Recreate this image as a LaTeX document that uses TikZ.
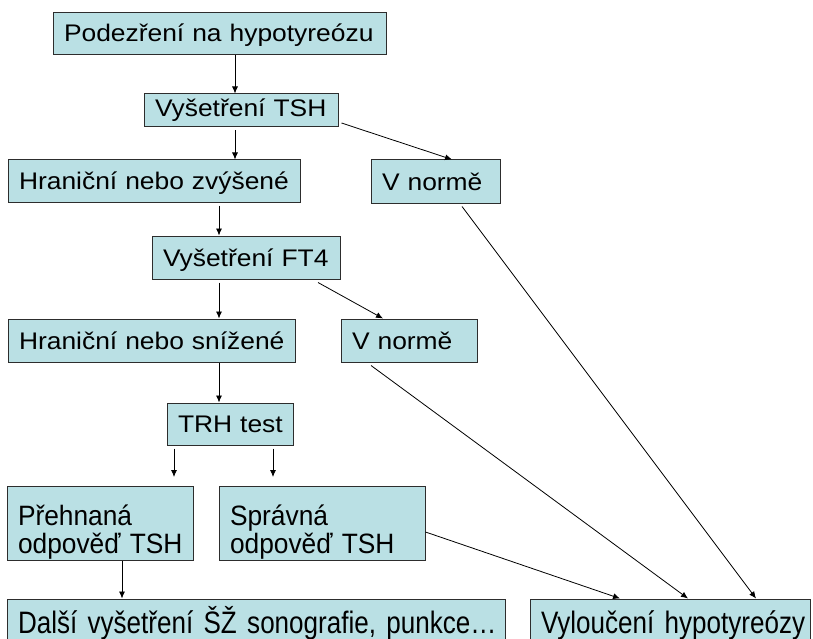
\documentclass[tikz,border=0pt]{standalone}
\usepackage{fontspec}
\setmainfont{Liberation Sans}
\newfontfamily\widesans[FakeStretch=1.1]{Liberation Sans}
\newfontfamily\tallsans[FakeStretch=0.84]{Liberation Sans}
\newfontfamily\midsans[FakeStretch=0.94]{Liberation Sans}
\usetikzlibrary{arrows.meta}
\definecolor{boxfill}{RGB}{186,224,228}
\definecolor{boxline}{RGB}{45,45,45}

\begin{document}
\begin{tikzpicture}[x=1pt,y=-1pt,>={Latex[length=7pt,width=6pt]},line width=0.8pt,
   box/.style={draw=boxline,fill=boxfill,line width=1pt,inner xsep=11pt,inner ysep=0pt,
      align=left,execute at begin node={\hyphenpenalty=10000\exhyphenpenalty=10000}},
   toptext/.style={box,font=\widesans\fontsize{24}{26}\selectfont,text height=29.5pt,text depth=12.5pt},
   lowtext/.style={box,font=\midsans\fontsize{28}{28}\selectfont,text height=39pt,text depth=35pt},
   lowline/.style={box,font=\tallsans\fontsize{31}{26}\selectfont,text height=34pt,text depth=8pt}]
         \useasboundingbox (0,0) rectangle (813,639);

         \node[toptext,text width=311pt] at (219.5,33.5) (A) {Podezření~na~hypotyreózu};
         \node[toptext,text width=172pt,text height=23pt,text depth=10pt] at (241,110.5) (B) {Vyšetření~TSH};
         \node[toptext,text width=270pt] at (154,181) (C) {Hraniční~nebo~zvýšené};
         \node[toptext,text width=107pt,minimum height=43pt] at (435.5,181.5) (D) {V~normě};
         \node[toptext,text width=166pt,minimum height=43pt] at (246,257.5) (E) {Vyšetření~FT4};
         \node[toptext,text width=265pt,minimum height=43pt] at (151.5,340.5) (F) {Hraniční~nebo~snížené};
         \node[toptext,text width=114pt,minimum height=43pt] at (409,340.5) (G) {V~normě};
         \node[toptext,text width=104pt] at (230,424) (H) {TRH~test};
         \node[lowtext,text width=164pt] at (100,523) (I) {Přehnaná\\odpověď~TSH};
         \node[lowtext,text width=184pt] at (322,523) (J) {Správná\\odpověď~TSH};
         \node[lowline,text width=476pt] at (256,620) (K) {Další~vyšetření~ŠŽ~sonografie,~punkce…};
         \node[lowline,text width=258pt] at (670,620) (L) {Vyloučení~hypotyreózy};
         \coordinate (P1) at (174,477);
         \coordinate (P2) at (273,477);

         \draw[->] ([xshift=15.5pt]A.south) -- ([xshift=-6pt]B.north);
         \draw[->] ([xshift=-6pt,yshift=-3pt]B.south) -- ([xshift=81pt]C.north);
         \draw[->] ([xshift=3pt,yshift=-12.5pt]B.east) -- ([xshift=16.5pt]D.north);
         \draw[->] ([xshift=65pt,yshift=-3pt]C.south) -- ([xshift=-27pt]E.north);
         \draw[->] ([xshift=-27pt,yshift=-3pt]E.south) -- ([xshift=67.5pt]F.north);
         \draw[->] ([xshift=72pt,yshift=-3pt]E.south) -- ([xshift=-26pt]G.north);
         \draw[->] ([xshift=67.5pt]F.south) -- ([xshift=-11pt]H.north);
         \draw[->] ([xshift=-56pt,yshift=-3pt]H.south) -- (P1);
         \draw[->] ([xshift=43pt,yshift=-3pt]H.south) -- (P2);
         \draw[->] ([xshift=22pt]I.south) -- ([xshift=-134pt]K.north);
         \draw[->] ([yshift=-9pt]J.east) -- ([xshift=-50pt]L.north);
         \draw[->] ([xshift=-38pt,yshift=-3pt]G.south) -- ([xshift=18pt]L.north);
         \draw[->] ([xshift=26.5pt,yshift=-3pt]D.south) -- ([xshift=86pt]L.north);
      \end{tikzpicture}
\end{document}
